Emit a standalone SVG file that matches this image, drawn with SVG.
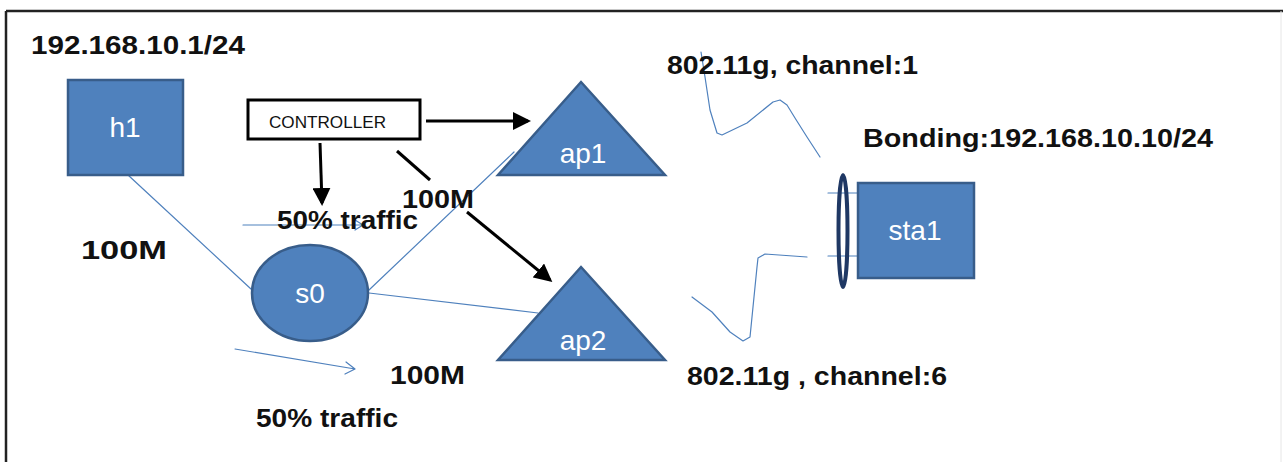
<svg xmlns="http://www.w3.org/2000/svg" width="1283" height="462" viewBox="0 0 1283 462">
<style>
.node{fill:#4F81BD;stroke:#385D8A;stroke-width:2.5}
.nlabel{font-family:"Liberation Sans",Arial,sans-serif;font-size:28px;fill:#ffffff;text-anchor:middle}
.blabel{font-family:"Liberation Sans",Arial,sans-serif;font-size:26px;font-weight:bold;fill:#111111}
.thin{fill:none;stroke:#4F81BD;stroke-width:1.2;stroke-linejoin:round;stroke-linecap:round}
.ctrl{fill:none;stroke:#000000;stroke-width:3}
</style>
<defs>
<marker id="ah" markerWidth="6" markerHeight="6" refX="5" refY="3" orient="auto" markerUnits="strokeWidth">
<path d="M0,0 L6,3 L0,6 Z" fill="#000000"/>
</marker>
</defs>
<rect x="0" y="0" width="1283" height="462" fill="#ffffff"/>
<g id="frame">
<line x1="6" y1="11" x2="1283" y2="11" stroke="#222222" stroke-width="2.5"/>
<line x1="6" y1="11" x2="6" y2="462" stroke="#222222" stroke-width="2.5"/>
<line x1="1281" y1="11" x2="1281" y2="462" stroke="#e6e6e6" stroke-width="1"/>
</g>
<g id="connectors">
<line class="thin" x1="128" y1="175" x2="251" y2="289"/>
<line class="thin" x1="369" y1="290" x2="514" y2="152"/>
<line class="thin" x1="369" y1="293" x2="538" y2="313"/>
<path class="thin" d="M243,225 L363,225 M355,220 L363,225 L355,230"/>
<path class="thin" d="M235,349 L355,369 M346,362 L355,369 L345,374"/>
<polyline class="thin" points="701,52 705,77 710,110 717,133 722,135 747,123 773,102 780,100 787,105 795,118 807,137 820,157"/>
<polyline class="thin" points="692,297 712,312 730,332 743,341 750,337 757,267 758,258 765,254 793,256 807,257"/>
<line class="thin" x1="828" y1="193" x2="860" y2="193"/>
<line class="thin" x1="828" y1="256" x2="890" y2="256"/>
<line class="ctrl" x1="426" y1="121" x2="528" y2="121" marker-end="url(#ah)"/>
<line class="ctrl" x1="320" y1="143" x2="322" y2="203" marker-end="url(#ah)"/>
<line class="ctrl" x1="397" y1="151" x2="430" y2="180"/>
<line class="ctrl" x1="467" y1="212" x2="550" y2="280" marker-end="url(#ah)"/>
</g>
<g id="controller">
<rect x="248" y="100" width="172" height="39" fill="#ffffff" stroke="#000000" stroke-width="3"/>
<text x="269" y="128" font-family="'Liberation Sans',Arial,sans-serif" font-size="17" fill="#111111" textLength="117" lengthAdjust="spacingAndGlyphs">CONTROLLER</text>
</g>
<g id="h1">
<rect class="node" x="68" y="80" width="115" height="95"/>
<text class="nlabel" x="125" y="137">h1</text>
</g>
<g id="s0">
<ellipse class="node" cx="310" cy="293" rx="58" ry="48"/>
<text class="nlabel" x="310" y="303">s0</text>
</g>
<g id="ap1">
<polygon class="node" points="581,82 665,175 498,175"/>
<text class="nlabel" x="583" y="163">ap1</text>
</g>
<g id="ap2">
<polygon class="node" points="581,267 665,360 498,360"/>
<text class="nlabel" x="583" y="350">ap2</text>
</g>
<g id="sta1">
<rect class="node" x="858" y="183" width="116" height="95"/>
<text class="nlabel" x="915" y="240">sta1</text>
<ellipse cx="843" cy="231" rx="4.5" ry="56" fill="none" stroke="#1F3864" stroke-width="4"/>
</g>
<g id="labels">
<text class="blabel" x="31" y="54" textLength="214" lengthAdjust="spacingAndGlyphs">192.168.10.1/24</text>
<text class="blabel" x="667" y="74" textLength="251" lengthAdjust="spacingAndGlyphs">802.11g, channel:1</text>
<text class="blabel" x="863" y="147" textLength="350" lengthAdjust="spacingAndGlyphs">Bonding:192.168.10.10/24</text>
<text class="blabel" x="81" y="259" textLength="86" lengthAdjust="spacingAndGlyphs">100M</text>
<text class="blabel" x="277" y="229" textLength="141" lengthAdjust="spacingAndGlyphs">50% traffic</text>
<text class="blabel" x="402" y="208" textLength="72" lengthAdjust="spacingAndGlyphs">100M</text>
<text class="blabel" x="390" y="384" textLength="75" lengthAdjust="spacingAndGlyphs">100M</text>
<text class="blabel" x="256" y="427" textLength="142" lengthAdjust="spacingAndGlyphs">50% traffic</text>
<text class="blabel" x="687" y="385" textLength="260" lengthAdjust="spacingAndGlyphs">802.11g , channel:6</text>
</g>
</svg>
